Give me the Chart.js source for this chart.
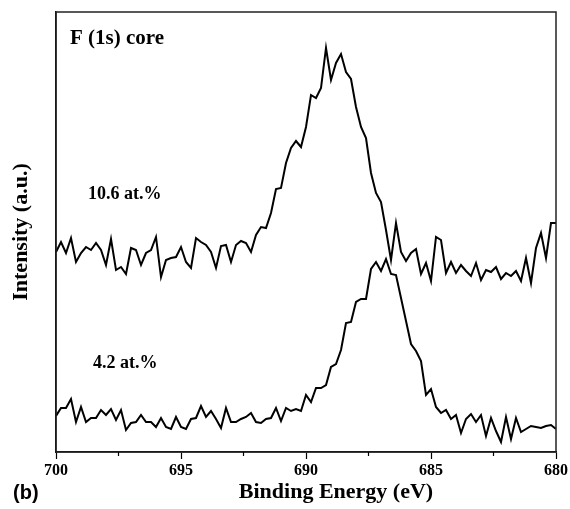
<!DOCTYPE html>
<html>
<head>
<meta charset="utf-8">
<script src="https://cdn.jsdelivr.net/npm/chart.js@4.4.1/dist/chart.umd.min.js"></script>
<style>
  html, body { margin: 0; padding: 0; background: #fff; }
</style>
</head>
<body>
<canvas id="xps" width="570" height="509"></canvas>
<script>
// binding energy (eV), 0.2 eV steps
const energies = [
  700, 699.8, 699.6, 699.4, 699.2, 699, 698.8, 698.6, 698.4, 698.2,
  698, 697.8, 697.6, 697.4, 697.2, 697, 696.8, 696.6, 696.4, 696.2,
  696, 695.8, 695.6, 695.4, 695.2, 695, 694.8, 694.6, 694.4, 694.2,
  694, 693.8, 693.6, 693.4, 693.2, 693, 692.8, 692.6, 692.4, 692.2,
  692, 691.8, 691.6, 691.4, 691.2, 691, 690.8, 690.6, 690.4, 690.2,
  690, 689.8, 689.6, 689.4, 689.2, 689, 688.8, 688.6, 688.4, 688.2,
  688, 687.8, 687.6, 687.4, 687.2, 687, 686.8, 686.6, 686.4, 686.2,
  686, 685.8, 685.6, 685.4, 685.2, 685, 684.8, 684.6, 684.4, 684.2,
  684, 683.8, 683.6, 683.4, 683.2, 683, 682.8, 682.6, 682.4, 682.2,
  682, 681.8, 681.6, 681.4, 681.2, 681, 680.8, 680.6, 680.4, 680.2,
  680
];

// 10.6 at.% spectrum (arbitrary units, offset)
const high = [
  200, 210, 199, 214, 190, 199, 205, 202, 209, 202,
  187, 213, 182, 185, 178, 204, 202, 187, 199, 202,
  215, 175, 192, 194, 195, 205, 190, 184, 214, 210,
  207, 200, 184, 206, 207, 190, 207, 211, 209, 200,
  217, 225, 224, 239, 263, 264, 289, 304, 311, 305,
  325, 357, 354, 364, 404, 372, 389, 398, 380, 373,
  345, 325, 314, 279, 259, 250, 222, 192, 229, 200,
  191, 199, 203, 178, 189, 171, 215, 212, 179, 190,
  179, 187, 181, 176, 189, 172, 182, 180, 185, 173,
  179, 176, 181, 171, 194, 169, 204, 219, 194, 229,
  229
];

// 4.2 at.% spectrum
const low = [
  36, 44, 44, 53, 30, 45, 30, 34, 34, 42,
  37, 43, 32, 42, 22, 29, 30, 37, 30, 30,
  25, 34, 25, 23, 35, 25, 23, 33, 34, 46,
  35, 41, 33, 24, 44, 30, 30, 33, 35, 39,
  30, 29, 33, 34, 44, 31, 44, 41, 43, 41,
  57, 50, 64, 64, 67, 85, 88, 102, 129, 130,
  150, 153, 153, 183, 190, 181, 193, 178, 177, 154,
  131, 108, 101, 91, 57, 63, 45, 39, 42, 33,
  37, 19, 33, 38, 30, 37, 16, 34, 21, 10,
  35, 13, 34, 20, 23, 26, 25, 24, 26, 27,
  23
];

const xTicks = [700, 695, 690, 685, 680];
const minorTicks = [697.5, 692.5, 687.5, 682.5];

const serif = "'Liberation Serif', 'Times New Roman', serif";

// frame, minor ticks and the text labels
const extras = {
  id: 'extras',
  afterDraw(chart) {
    const ctx = chart.ctx;
    const a = chart.chartArea;
    const x = chart.scales.x;
    ctx.save();
    ctx.strokeStyle = '#222';
    ctx.lineWidth = 1.5;
    ctx.strokeRect(a.left, a.top, a.right - a.left, a.bottom - a.top);

    ctx.lineWidth = 1.2;
    ctx.strokeStyle = '#000';
    minorTicks.forEach(v => {
      const px = x.getPixelForValue(v);
      ctx.beginPath();
      ctx.moveTo(px, a.bottom);
      ctx.lineTo(px, a.bottom + 4);
      ctx.stroke();
    });

    ctx.fillStyle = '#000';
    ctx.textBaseline = 'middle';
    ctx.textAlign = 'left';
    ctx.font = 'bold 21px ' + serif;
    ctx.fillText('F (1s) core', 70, 39);
    ctx.font = 'bold 18px ' + serif;
    ctx.fillText('10.6 at.%', 88, 194);
    ctx.fillText('4.2 at.%', 93, 363);

    ctx.font = 'bold 20px "Liberation Sans", Arial, sans-serif';
    ctx.fillText('(b)', 13, 493);

    ctx.textAlign = 'center';
    ctx.font = 'bold 22px ' + serif;
    ctx.fillText('Binding Energy (eV)', 336, 492);
    ctx.restore();
  }
};

new Chart(document.getElementById('xps'), {
  type: 'line',
  data: {
    datasets: [
      {
        label: '10.6 at.%',
        data: energies.map((e, i) => ({ x: e, y: high[i] })),
        borderColor: '#000',
        borderWidth: 2,
        pointRadius: 0,
        tension: 0
      },
      {
        label: '4.2 at.%',
        data: energies.map((e, i) => ({ x: e, y: low[i] })),
        borderColor: '#000',
        borderWidth: 2,
        pointRadius: 0,
        tension: 0
      }
    ]
  },
  options: {
    responsive: false,
    animation: false,
    layout: { padding: { left: 0, right: 13, top: 12, bottom: 0 } },
    plugins: {
      legend: { display: false },
      tooltip: { enabled: false }
    },
    scales: {
      x: {
        type: 'linear',
        reverse: true,
        min: 680,
        max: 700,
        afterBuildTicks: s => { s.ticks = xTicks.map(v => ({ value: v })); },
        afterFit: s => { s.height = 57; },
        grid: {
          display: true,
          drawOnChartArea: false,
          drawTicks: true,
          tickLength: 7,
          tickColor: '#000',
          tickWidth: 1.2
        },
        border: { display: true, color: '#000', width: 1.5 },
        ticks: {
          color: '#000',
          padding: 2,
          maxRotation: 0,
          font: { family: serif, size: 16, weight: 'bold' }
        }
      },
      y: {
        min: 0,
        max: 440,
        afterFit: s => { s.width = 56; },
        grid: { display: false },
        border: { display: true, color: '#000', width: 1.5 },
        ticks: { display: false },
        title: {
          display: true,
          text: 'Intensity (a.u.)',
          color: '#000',
          padding: { top: 8, bottom: 0 },
          font: { family: serif, size: 22, weight: 'bold' }
        }
      }
    }
  },
  plugins: [extras]
});
</script>
</body>
</html>
